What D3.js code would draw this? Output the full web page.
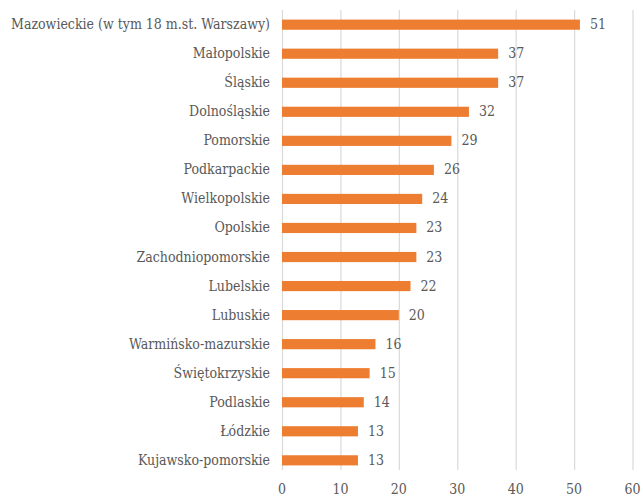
<!DOCTYPE html>
<html>
<head>
<meta charset="utf-8">
<script src="https://cdn.jsdelivr.net/npm/d3@7"></script>
<style>
  body { margin: 0; background: #fff; }
</style>
</head>
<body>
<svg id="chart" width="643" height="499"></svg>
<script>
const regions = [
  "Mazowieckie (w tym 18 m.st. Warszawy)", "Małopolskie", "Śląskie", "Dolnośląskie",
  "Pomorskie", "Podkarpackie", "Wielkopolskie", "Opolskie", "Zachodniopomorskie",
  "Lubelskie", "Lubuskie", "Warmińsko-mazurskie", "Świętokrzyskie", "Podlaskie",
  "Łódzkie", "Kujawsko-pomorskie"
];
const counts = [51, 37, 37, 32, 29, 26, 24, 23, 23, 22, 20, 16, 15, 14, 13, 13];
const ticks = [0, 10, 20, 30, 40, 50, 60];

const svg = d3.select("#chart")
    .style("font-family", "'DejaVu Serif Condensed', 'DejaVu Serif', serif")
    .style("font-size", "14px");
const margin = {top: 10, left: 282};

const x = d3.scaleLinear().domain([0, 60]).range([margin.left, 632.5]);
const y = d3.scaleBand().domain(regions)
    .range([margin.top, 475]).paddingInner(0.65).paddingOuter(0.33);

// vertical gridlines
svg.append("g")
  .selectAll("line")
  .data(ticks)
  .join("line")
    .attr("x1", d => x(d) + 0.5)
    .attr("x2", d => x(d) + 0.5)
    .attr("y1", margin.top)
    .attr("y2", 470)
    .attr("stroke", "#d9d9d9")
    .attr("stroke-width", 1.2);

// tick labels
svg.append("g")
  .attr("text-anchor", "middle")
  .attr("fill", "#595959")
  .selectAll("text")
  .data(ticks)
  .join("text")
    .attr("x", d => x(d))
    .attr("y", 494)
    .text(d => d);

// bars
svg.append("g")
  .selectAll("rect")
  .data(regions)
  .join("rect")
    .attr("x", x(0))
    .attr("y", d => y(d))
    .attr("width", (d, i) => x(counts[i]) - x(0))
    .attr("height", y.bandwidth())
    .attr("fill", "#ed7d31");

// category labels
const catLabels = svg.append("g")
  .attr("text-anchor", "end")
  .attr("fill", "#595959")
  .selectAll("text")
  .data(regions)
  .join("text")
    .attr("x", margin.left - 12)
    .attr("y", d => y(d) + y.bandwidth() / 2)
    .attr("dy", "0.32em")
    .text(d => d);

// value labels
svg.append("g")
  .attr("fill", "#595959")
  .selectAll("text")
  .data(counts)
  .join("text")
    .attr("x", d => x(d) + 10)
    .attr("y", (d, i) => y(regions[i]) + y.bandwidth() / 2)
    .attr("dy", "0.32em")
    .text(d => d);

// shrink the font so the longest label fits like the original (~262px)
const longest = d3.max(catLabels.nodes(), n => n.getComputedTextLength());
if (longest > 262) {
  svg.style("font-size", (14 * 262 / longest).toFixed(2) + "px");
}
</script>
</body>
</html>
